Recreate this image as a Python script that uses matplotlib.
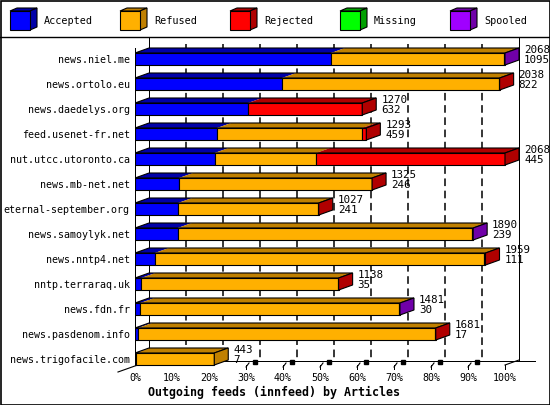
import matplotlib
matplotlib.use("Agg")
import matplotlib.pyplot as plt
from matplotlib.patches import Rectangle, Polygon

# feeds, top to bottom
feeds = ["news.niel.me", "news.ortolo.eu", "news.daedelys.org", "feed.usenet-fr.net",
         "nut.utcc.utoronto.ca", "news.mb-net.net", "eternal-september.org",
         "news.samoylyk.net", "news.nntp4.net", "nntp.terraraq.uk", "news.fdn.fr",
         "news.pasdenom.info", "news.trigofacile.com"]
totals = [2068, 2038, 1270, 1293, 2068, 1325, 1027, 1890, 1959, 1138, 1481, 1681, 443]
accepted = [1095, 822, 632, 459, 445, 246, 241, 239, 111, 35, 30, 17, 7]
refused = [969, 1212, 0, 810, 567, 1076, 783, 1643, 1841, 1099, 1448, 1661, 436]
rejected = [0, 4, 638, 24, 1056, 3, 3, 0, 7, 4, 0, 3, 0]
missing = [0, 0, 0, 0, 0, 0, 0, 0, 0, 0, 0, 0, 0]
spooled = [4, 0, 0, 0, 0, 0, 0, 8, 0, 0, 3, 0, 0]

series = ["Accepted", "Refused", "Rejected", "Missing", "Spooled"]
front_col = ["#0000ff", "#ffb000", "#ff0000", "#00ff00", "#a000ff"]
dark_col = ["#0000a8", "#c08000", "#b00000", "#00a000", "#7000a8"]
pct_ticks = list(range(0, 101, 10))
title = "Outgoing feeds (innfeed) by Articles"

MONO = "DejaVu Sans Mono"
LW = 0.72  # one pixel at 100 dpi
W, H = 550, 405
fig = plt.figure(figsize=(W / 100, H / 100), dpi=100)

# background layer in pixel coords: frame, legend, separator
bg = fig.add_axes([0, 0, 1, 1])
bg.set_xlim(0, W)
bg.set_ylim(H, 0)
bg.axis("off")
bg.add_patch(Rectangle((0.5, 0.5), W - 1, H - 1, fill=False, ec="black", lw=1.2))
bg.plot([0, W], [37, 37], color="black", lw=1)
for k, name in enumerate(series):
    x0 = 10 + 110 * k
    bg.add_patch(Polygon([(x0, 11), (x0 + 20, 11), (x0 + 27, 8), (x0 + 7, 8)],
                         fc=dark_col[k], ec="black", lw=0.8))
    bg.add_patch(Polygon([(x0 + 20, 11), (x0 + 27, 8), (x0 + 27, 27), (x0 + 20, 30)],
                         fc=dark_col[k], ec="black", lw=0.8))
    bg.add_patch(Rectangle((x0, 11), 20, 19, fc=front_col[k], ec="black", lw=0.8))
    bg.text(x0 + 34, 21, name, family=MONO, fontsize=7.3, va="center", ha="left")

# main chart axes: x in percent of largest total, y in rows
ax = fig.add_axes([135 / W, (H - 372) / H, 410 / W, 334 / H])
ax.patch.set_visible(False)
PX = 1 / 3.7   # percent per pixel
PY = 1 / 25    # rows per pixel
ax.set_xlim(0, 410 * PX)
ax.set_ylim(12.52, -0.84)
dx, dy, hh = 14 * PX, 5 * PY, 6 * PY
top_y, floor_y = -0.84, 12.08

# back wall and grid
line_kw = dict(color="black", lw=LW, zorder=1, antialiased=False, clip_on=False)
ax.plot([dx, dx], [top_y, floor_y], **line_kw)
ax.plot([100 + dx, 100 + dx], [top_y, floor_y], **line_kw)
ax.plot([0, 0], [-0.44, 12.24], **line_kw)
ax.vlines([p + dx for p in pct_ticks[1:-1]], -0.6, floor_y, colors="black",
          linewidths=1.1, linestyles=(0, (5, 3)), zorder=1)
# floor
ax.plot([dx, 108.1], [floor_y, floor_y], **line_kw)
ax.plot([-4.6, dx], [12.52, floor_y], color="black", lw=0.8, zorder=1, clip_on=False)
ax.plot([100, 100 + dx], [12.24, 12.04], color="black", lw=0.8, zorder=1)
for p in pct_ticks[3:]:
    ax.plot([p, p], [12.24, 12.4], **line_kw)
    if p < 100:
        ax.plot([p, p + 3 * PX], [12.32, 12.16], color="black", lw=0.8, zorder=1)
        ax.plot([p + 9 * PX], [12.12], marker="s", ms=2.4, color="black", zorder=1)

scale = 100 / max(totals)
for i in range(len(feeds)):
    vals = [accepted[i], refused[i], rejected[i], missing[i], spooled[i]]
    yt, yb = i - hh, i + hh
    x = 0
    last = 0
    for k, v in enumerate(vals):
        if v <= 0:
            continue
        w = v * scale
        ax.add_patch(Polygon([(x, yt), (x + w, yt), (x + w + dx, yt - dy), (x + dx, yt - dy)],
                             fc=dark_col[k], ec="none", zorder=3))
        ax.add_patch(Rectangle((x, yt), w, 2 * hh, fc=front_col[k], ec="black",
                               lw=0.8, zorder=4))
        x += w
        last = k
    ax.add_patch(Polygon([(0, yt), (x, yt), (x + dx, yt - dy), (dx, yt - dy)],
                         fill=False, ec="black", lw=0.8, zorder=5))
    ax.add_patch(Polygon([(x, yt), (x + dx, yt - dy), (x + dx, yb - dy), (x, yb)],
                         fc=dark_col[last], ec="black", lw=0.8, zorder=5))
    ax.text(x + dx + 5 * PX, i - 4 * PY, f"{totals[i]}\n{accepted[i]}", family=MONO,
            fontsize=7.8, va="center", ha="left", linespacing=1.05, zorder=6)

ax.set_yticks(range(len(feeds)))
ax.set_yticklabels(feeds, family=MONO, fontsize=7.2)
ax.set_xticks(pct_ticks)
ax.set_xticklabels([f"{p}%" for p in pct_ticks], family=MONO, fontsize=7.2)
ax.tick_params(axis="y", length=0, pad=3.8)
ax.tick_params(axis="x", length=0, pad=1)
for s in ax.spines.values():
    s.set_visible(False)

fig.text(274.5 / W, 1 - 392 / H, title, family=MONO, fontweight="bold",
         fontsize=8.4, ha="center", va="center")

fig.savefig("out.png", dpi=100)
